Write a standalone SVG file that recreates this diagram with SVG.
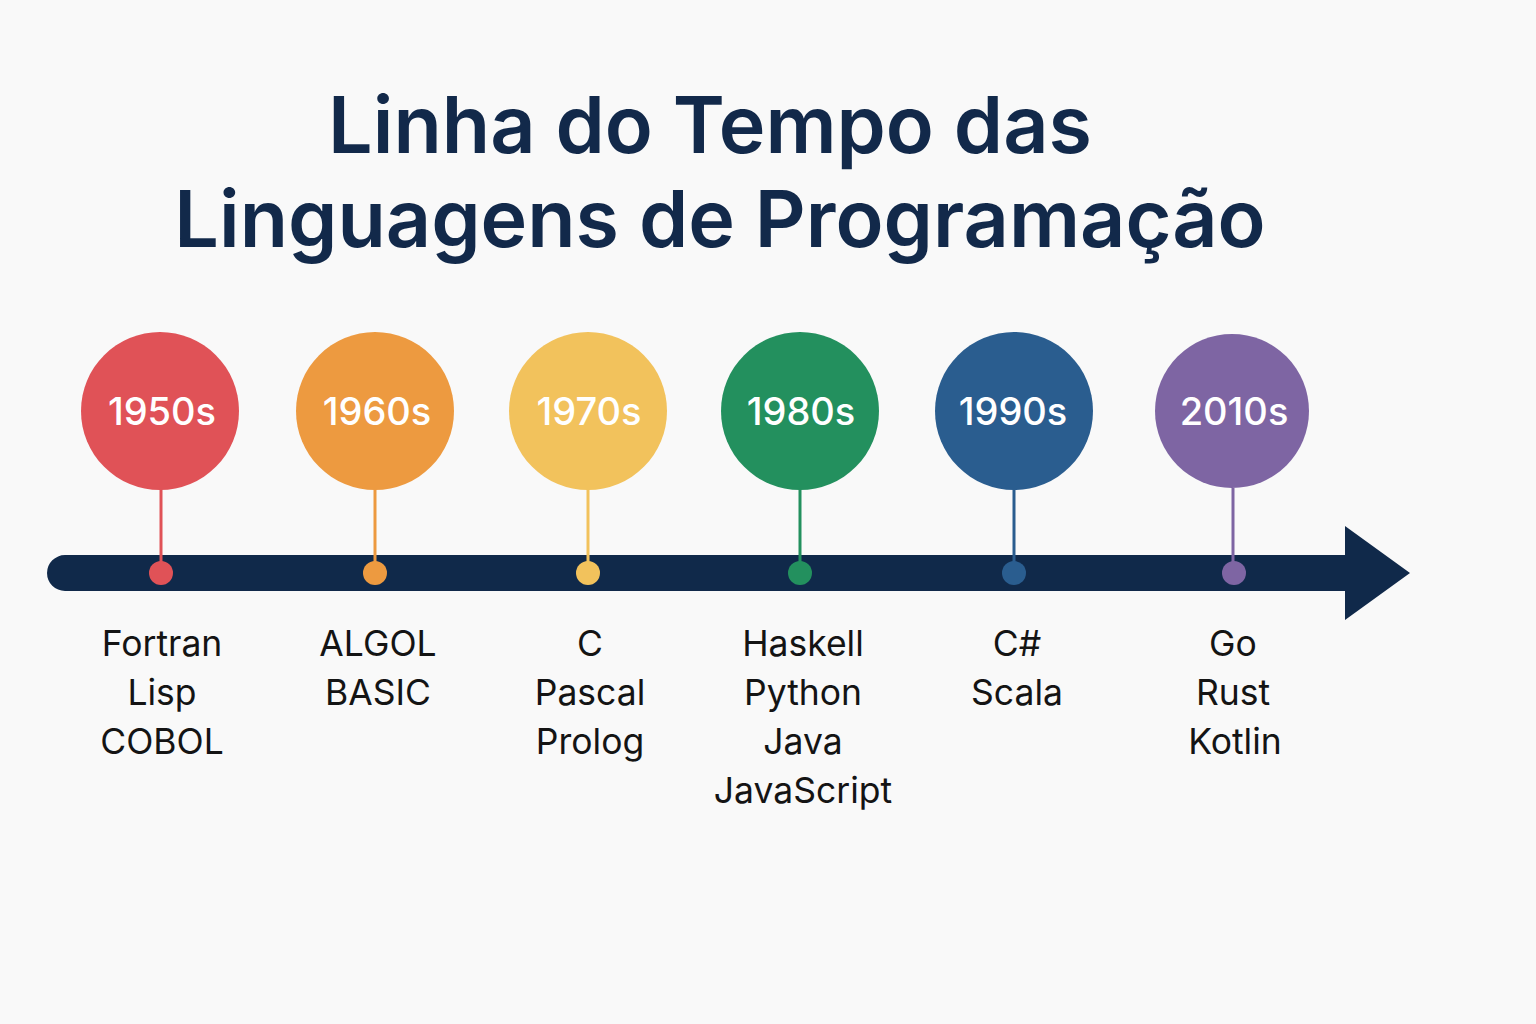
<svg xmlns="http://www.w3.org/2000/svg" width="1536" height="1024" viewBox="0 0 1536 1024">
<style>
.title{font-family:Inter,"Open Sans","Liberation Sans",sans-serif;font-weight:600;font-size:79px;fill:#12294a;text-anchor:middle}
.year{font-family:Inter,"Open Sans","Liberation Sans",sans-serif;font-weight:500;font-size:38px;fill:#ffffff;text-anchor:middle}
.lang{font-family:Inter,"Open Sans","Liberation Sans",sans-serif;font-size:35.5px;fill:#141414;text-anchor:middle}
.stem{stroke-width:3}
</style>
<rect width="1536" height="1024" fill="#f9f9f9"/>
<g id="title">
<text class="title" x="710" y="153">Linha do Tempo das</text>
<text class="title" x="720" y="247">Linguagens de Programação</text>
</g>
<g id="connectors">
<path d="M65 555 H1345 V526 L1410 573 L1345 620 V591 H65 A18 18 0 0 1 65 555 Z" fill="#10294a"/>
<line class="stem" x1="161" y1="488" x2="161" y2="573" stroke="#e05257"/>
<line class="stem" x1="375" y1="488" x2="375" y2="573" stroke="#ed9a40"/>
<line class="stem" x1="588" y1="488" x2="588" y2="573" stroke="#f2c25c"/>
<line class="stem" x1="800" y1="488" x2="800" y2="573" stroke="#23905e"/>
<line class="stem" x1="1014" y1="488" x2="1014" y2="573" stroke="#2a5d8f"/>
<line class="stem" x1="1233" y1="488" x2="1233" y2="573" stroke="#7e65a3"/>
</g>
<g id="n1950">
<circle cx="160" cy="411" r="79" fill="#e05257"/>
<text class="year" x="162" y="425">1950s</text>
<circle cx="161" cy="573" r="12" fill="#e05257"/>
<text class="lang" x="162" y="656">Fortran</text>
<text class="lang" x="162" y="705">Lisp</text>
<text class="lang" x="162" y="754">COBOL</text>
</g>
<g id="n1960">
<circle cx="375" cy="411" r="79" fill="#ed9a40"/>
<text class="year" x="377" y="425">1960s</text>
<circle cx="375" cy="573" r="12" fill="#ed9a40"/>
<text class="lang" x="378" y="656">ALGOL</text>
<text class="lang" x="378" y="705">BASIC</text>
</g>
<g id="n1970">
<circle cx="588" cy="411" r="79" fill="#f2c25c"/>
<text class="year" x="589" y="425">1970s</text>
<circle cx="588" cy="573" r="12" fill="#f2c25c"/>
<text class="lang" x="590" y="656">C</text>
<text class="lang" x="590" y="705">Pascal</text>
<text class="lang" x="590" y="754">Prolog</text>
</g>
<g id="n1980">
<circle cx="800" cy="411" r="79" fill="#23905e"/>
<text class="year" x="801" y="425">1980s</text>
<circle cx="800" cy="573" r="12" fill="#23905e"/>
<text class="lang" x="803" y="656">Haskell</text>
<text class="lang" x="803" y="705">Python</text>
<text class="lang" x="803" y="754">Java</text>
<text class="lang" x="803" y="803">JavaScript</text>
</g>
<g id="n1990">
<circle cx="1014" cy="411" r="79" fill="#2a5d8f"/>
<text class="year" x="1013" y="425">1990s</text>
<circle cx="1014" cy="573" r="12" fill="#2a5d8f"/>
<text class="lang" x="1017" y="656">C#</text>
<text class="lang" x="1017" y="705">Scala</text>
</g>
<g id="n2010">
<circle cx="1232" cy="411" r="77" fill="#7e65a3"/>
<text class="year" x="1234" y="425">2010s</text>
<circle cx="1234" cy="573" r="12" fill="#7e65a3"/>
<text class="lang" x="1233" y="656">Go</text>
<text class="lang" x="1233" y="705">Rust</text>
<text class="lang" x="1235" y="754">Kotlin</text>
</g>
</svg>
